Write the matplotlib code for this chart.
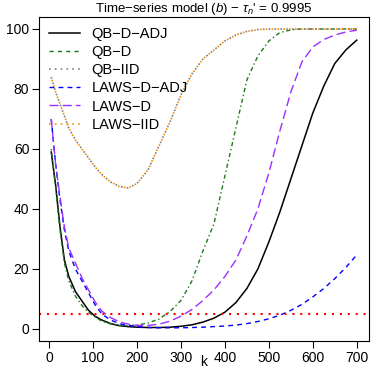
import matplotlib.pyplot as plt
from matplotlib.lines import Line2D

plt.rcParams['font.family'] = ['Liberation Sans', 'DejaVu Sans']
plt.rcParams['mathtext.fontset'] = 'custom'
plt.rcParams['mathtext.rm'] = 'Liberation Sans'
plt.rcParams['mathtext.it'] = 'Liberation Sans:italic'

# grid of k values
k = [5, 15, 25, 35, 45, 60, 75, 90, 105, 120, 140, 160, 180, 200, 225, 250, 275,
     300, 325, 350, 375, 400, 425, 450, 475, 500, 525, 550, 575, 600, 625, 650, 675, 700]

qb_d_adj = [59, 48, 34, 23, 17.5, 12.5, 9.3, 6.2, 4.2, 3.0, 1.8, 1.1, 0.8, 0.6, 0.5, 0.5, 0.6,
            0.9, 1.4, 2.3, 3.6, 5.6, 8.8, 13.5, 20, 29, 39, 50, 61, 72, 81, 88.5, 93, 96.3]
qb_d = [60, 47, 33, 22, 16, 11, 7.8, 5.5, 4.0, 2.6, 1.7, 1.2, 1.1, 1.3, 2.0, 3.3, 5.8,
        9.5, 16, 26, 35, 51, 67, 83, 91, 96, 98.8, 99.7, 100, 100, 100, 100, 100, 100]
qb_iid = [84, 79, 75, 71, 67, 63, 60, 57, 54, 51.5, 49, 47.5, 47, 48.5, 53, 61, 69,
          78, 85, 90, 93, 96, 98, 99.2, 99.8, 100, 100, 100, 100, 100, 100, 100, 100, 100]
laws_d_adj = [70, 55, 43, 33, 26, 20, 16, 12, 8, 5, 3, 1.8, 1.1, 0.8, 0.5, 0.4, 0.4,
              0.4, 0.5, 0.6, 0.8, 1.0, 1.3, 1.8, 2.5, 3.4, 4.6, 6.2, 8.2, 10.7, 13.5, 16.8, 20.5, 24.7]
laws_d = [70, 55, 44, 34, 27, 22, 17, 13, 9, 6, 3.8, 2.4, 1.6, 1.2, 1.2, 1.6, 2.6,
          4.3, 6.5, 9.5, 13, 17.5, 23, 31, 40, 52, 66, 79, 89, 94, 96.5, 98, 99, 99.6]
laws_iid = qb_iid
level = 5

fig = plt.figure(figsize=(3.71, 3.71), dpi=100)
ax = fig.add_axes([39/371, 30/371, 330/371, 324/371])

ax.plot(k, qb_d_adj, color='black', lw=1.1)
ax.plot(k, qb_d, color='#1a7a1a', lw=1.0, dashes=(1, 2, 3, 2))
ax.plot(k, qb_iid, color='grey', lw=1.2, dashes=(1, 2.5))
ax.plot(k, laws_d_adj, color='blue', lw=1.0, dashes=(3.5, 3))
ax.plot(k, laws_d, color='#9b30ff', lw=1.0, dashes=(6.5, 3))
ax.plot(k, laws_iid, color='darkorange', lw=1.2, linestyle=(1.75, (1, 2.5)))
ax.axhline(level, color='red', lw=1.5, dashes=(1, 2.8))

ax.set_xlim(-22.8, 727.8)
ax.set_ylim(-4, 104)
ax.set_xticks([0, 100, 200, 300, 400, 500, 600, 700])
ax.set_yticks([0, 20, 40, 60, 80, 100])
ax.tick_params(direction='out', length=5, labelsize=10, pad=2)
fig.text(204/371, 1 - 362/371, 'k', fontsize=10, ha='center', va='center')
ax.set_title(r"Time$-$series model $(\mathit{b})$ $-$ $\tau_n$' = 0.9995", fontsize=9.5, pad=1.5)

handles = [
    Line2D([], [], color='black', lw=1.1),
    Line2D([], [], color='#1a7a1a', lw=1.0, dashes=(3, 3)),
    Line2D([], [], color='grey', lw=1.2, dashes=(1, 2.5)),
    Line2D([], [], color='blue', lw=1.0, dashes=(3.5, 3)),
    Line2D([], [], color='#9b30ff', lw=1.0, dashes=(6.5, 3)),
    Line2D([], [], color='darkorange', lw=1.2, dashes=(1, 2.5)),
]
labels = ['QB−D−ADJ', 'QB−D', 'QB−IID', 'LAWS−D−ADJ', 'LAWS−D', 'LAWS−IID']
ax.legend(handles, labels, loc='upper left', frameon=False, fontsize=10.5,
          handlelength=2.1, handletextpad=0.8, labelspacing=0.28,
          borderaxespad=0.3, bbox_to_anchor=(0.0, 1.0))

fig.savefig('out.png', dpi=100)
